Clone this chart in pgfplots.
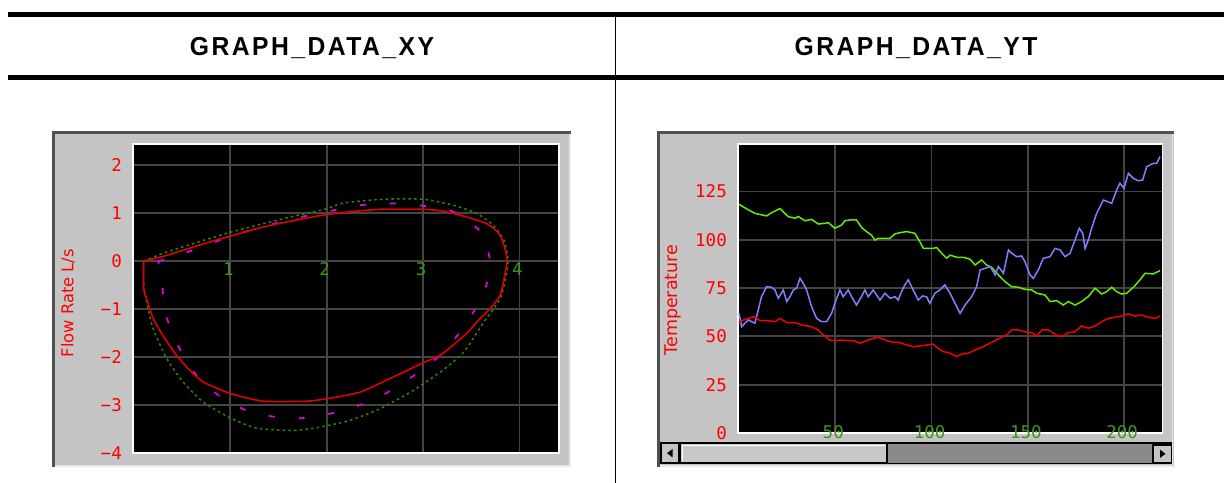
\documentclass[border=0pt]{standalone}
\usepackage{pgfplots}
\pgfplotsset{compat=1.18}
\usepackage{fontspec}
\newfontfamily\hdrfont[LetterSpace=9.5,FakeStretch=0.95]{Liberation Sans}
\newfontfamily\monofont{DejaVu Sans Mono}
\newfontfamily\labfont{DejaVu Sans}

\definecolor{framegray}{RGB}{196,196,196}
\definecolor{frdark}{RGB}{80,80,80}
\definecolor{frlight}{RGB}{232,232,232}
\definecolor{griddk}{RGB}{68,68,68}
\definecolor{xyred}{RGB}{224,0,0}
\definecolor{xymag}{RGB}{230,0,230}
\definecolor{xygreen}{RGB}{40,140,0}
\definecolor{ticklabgreen}{RGB}{60,150,30}
\definecolor{ytgreen}{RGB}{100,235,0}
\definecolor{ytblue}{RGB}{128,128,255}
\definecolor{ytred}{RGB}{240,0,0}
\definecolor{trackgray}{RGB}{138,138,138}
\definecolor{thumbgray}{RGB}{200,200,200}

\pgfplotsset{
  widget/.style={
    scale only axis,
    axis background/.style={fill=black},
    axis line style={white, line width=1.5bp},
    grid=major,
    grid style={griddk, line width=1.7bp},
    major tick length=0pt,
    tick style={draw=none},
    yticklabel style={font=\monofont\fontsize{17.5bp}{17.5bp}\selectfont, text=red, anchor=east, inner sep=0pt, xshift=-11bp},
    xticklabel style={font=\monofont\fontsize{17.5bp}{17.5bp}\selectfont, text=ticklabgreen, anchor=center, inner sep=0pt},
    ylabel style={text=red, anchor=center},
  }
}

\begin{document}
\begin{tikzpicture}
\path[use as bounding box, fill=white] (0,0) rectangle (1224bp,-483bp);

% header
\fill[black] (8bp,-11.5bp) rectangle (1224bp,-16.5bp);
\fill[black] (8bp,-74.5bp) rectangle (1224bp,-80bp);
\draw[black, line width=1bp] (615bp,-16.5bp) -- (615bp,-483bp);
\node[anchor=base, inner sep=0pt, font=\hdrfont\bfseries\fontsize{26bp}{26bp}\selectfont] at (312bp,-55.5bp) {GRAPH\_DATA\_XY};
\node[anchor=base, inner sep=0pt, font=\hdrfont\bfseries\fontsize{26bp}{26bp}\selectfont] at (916bp,-55.5bp) {GRAPH\_DATA\_YT};

% left widget frame
\fill[framegray] (52.5bp,-131.5bp) rectangle (571bp,-467bp);
\draw[frlight, line width=1.5bp] (53bp,-466.2bp) -- (570.2bp,-466.2bp) -- (570.2bp,-132bp);
\draw[frdark, line width=2.5bp] (53.7bp,-466.5bp) -- (53.7bp,-132.7bp) -- (571bp,-132.7bp);

% right widget frame
\fill[framegray] (657.5bp,-131.5bp) rectangle (1173.5bp,-467bp);
\draw[frlight, line width=1.5bp] (658bp,-466.2bp) -- (1172.7bp,-466.2bp) -- (1172.7bp,-132bp);
\draw[frdark, line width=2.5bp] (658.7bp,-466.5bp) -- (658.7bp,-132.7bp) -- (1173.5bp,-132.7bp);

% scrollbar
\fill[trackgray] (660bp,-443bp) rectangle (1172bp,-463.5bp);
\draw[black, line width=1.2bp] (660bp,-443bp) -- (1172bp,-443bp);
\draw[black, line width=1.2bp] (660bp,-463.5bp) -- (1172bp,-463.5bp);
\filldraw[fill=framegray, draw=black, line width=1.5bp] (661bp,-443.5bp) rectangle (679bp,-463bp);
\fill[black] (667bp,-453.2bp) -- (672.5bp,-449bp) -- (672.5bp,-457.4bp) -- cycle;
\filldraw[fill=thumbgray, draw=black, line width=1.8bp] (680.5bp,-443.5bp) rectangle (887bp,-463bp);
\draw[white, line width=1bp] (682.5bp,-461bp) -- (682.5bp,-445.5bp) -- (885bp,-445.5bp);
\filldraw[fill=framegray, draw=black, line width=1.5bp] (1153bp,-445bp) rectangle (1171.5bp,-462.7bp);
\fill[black] (1165.5bp,-453.8bp) -- (1160bp,-449.6bp) -- (1160bp,-458bp) -- cycle;

% ---------------- GRAPH_DATA_XY ----------------
\begin{axis}[widget,
  at={(133bp,-453bp)}, anchor=south west,
  width=426bp, height=309bp,
  xmin=-0.01, xmax=4.41, ymin=-4, ymax=2.44,
  xtick={1,2,3,4}, xticklabels={1,2,3,4},
  ytick={-4,-3,-2,-1,0,1,2},
  yticklabels={−4,−3,−2,−1,0,1,2},
  xticklabel style={yshift=184bp, xshift=-2bp},
  ylabel={Flow Rate L/s},
  ylabel style={font=\labfont\fontsize{16.3bp}{16.3bp}\selectfont, at={(axis description cs:-0.1526,0.485)}},
]
\addplot[xygreen, line width=1.5bp, dash pattern=on 2.5bp off 3.2bp, smooth, tension=0.4] coordinates {
(0.10,0) (0.34,0.19) (0.72,0.43) (1.0,0.6) (1.34,0.78) (1.69,0.95) (2.0,1.09) (2.17,1.21) (2.59,1.29) (3.0,1.29) (3.32,1.16) (3.56,0.99) (3.73,0.74) (3.84,0.43) (3.88,0.05) (3.87,-0.23) (3.80,-0.78) (3.63,-1.27) (3.42,-1.9) (3.18,-2.31) (2.87,-2.73) (2.55,-3.08) (2.24,-3.32) (1.93,-3.46) (1.65,-3.53) (1.27,-3.48) (1.0,-3.27) (0.72,-2.94) (0.51,-2.52) (0.34,-2.03) (0.20,-1.41) (0.13,-0.85) (0.10,-0.44) (0.10,0)
};
\addplot[xymag, line width=1.7bp, dash pattern=on 6bp off 24bp, smooth, tension=0.4] coordinates {
(0.25,0) (0.41,0.08) (0.72,0.31) (1.05,0.55) (1.38,0.74) (1.69,0.9) (2.0,1.03) (2.33,1.16) (2.66,1.2) (2.97,1.16) (3.3,1.04) (3.59,0.62) (3.70,-0.05) (3.63,-0.65) (3.45,-1.3) (3.18,-1.96) (2.83,-2.49) (2.51,-2.87) (2.18,-3.11) (1.86,-3.25) (1.59,-3.28) (1.22,-3.15) (0.91,-2.85) (0.62,-2.31) (0.43,-1.65) (0.32,-1.03) (0.29,-0.38) (0.25,0)
};
\addplot[xyred, line width=1.6bp, smooth, tension=0.35] coordinates {
(0.10,0) (0.34,0.12) (0.72,0.36) (1.0,0.52) (1.34,0.71) (1.72,0.87) (2.0,0.97) (2.31,1.04) (2.57,1.08) (3.0,1.08) (3.21,1.04) (3.45,0.92) (3.66,0.78) (3.79,0.57) (3.85,0.26) (3.87,0) (3.84,-0.37) (3.80,-0.71) (3.71,-0.96) (3.59,-1.2) (3.45,-1.51) (3.33,-1.72) (3.18,-1.96) (3.0,-2.12) (2.76,-2.35) (2.55,-2.55) (2.35,-2.73) (2.14,-2.82) (2.0,-2.87) (1.79,-2.92) (1.34,-2.92) (1.0,-2.76) (0.72,-2.52) (0.58,-2.28) (0.44,-1.96) (0.30,-1.55) (0.20,-1.2) (0.13,-0.78) (0.10,-0.57) (0.10,0)
};
\end{axis}

% ---------------- GRAPH_DATA_YT ----------------
\begin{axis}[widget,
  at={(738bp,-433bp)}, anchor=south west,
  width=424.5bp, height=289bp,
  xmin=-0.5, xmax=219.9, ymin=0, ymax=149.5,
  xtick={50,100,150,200}, xticklabels={50,100,150,200},
  ytick={0,25,50,75,100,125},
  yticklabels={0,25,50,75,100,125},
  xticklabel style={yshift=1bp, xshift=-2bp},
  ylabel={Temperature},
  ylabel style={font=\labfont\fontsize{17.5bp}{17.5bp}\selectfont, at={(axis description cs:-0.153,0.46)}},
]
\addplot[ytgreen, line width=1.5bp] coordinates {
(0,118.3)(5,115.4)(8.3,113.6)(14.4,112.3)(17,114)(21.3,116.1)(25.6,111.9)(29.1,111.1)(30.8,112)(34.3,109.8)(37.7,110.5)(41.2,108.1)(44.7,108.5)(46.4,108.8)(49.8,105.9)(53.3,107.6)(55,109.8)(57.6,110.2)(61,110.2)(63.6,106.4)(66.2,104.2)(68.8,102.4)(70.6,99.8)(72.3,100.7)(78.4,100.7)(81,103)(83.5,103.6)(87,104.2)(91.3,103.3)(93.9,99)(95.7,95.5)(100.8,95.5)(102.6,96)(105.2,93)(107.8,90.4)(109.6,92)(113.1,90.9)(116.5,90.9)(120,89.9)(122.6,86.9)(126,89.5)(128.6,86.9)(131.2,85.7)(134.7,81.8)(138.1,78.3)(141.6,75.7)(145.1,75.4)(148.5,74.3)(152,74)(154.6,72.3)(158.9,71.4)(161.5,68)(165,68.5)(168.4,66.2)(171,68)(174.5,66.2)(177.9,68)(181.4,70.6)(184.9,74.9)(188.3,71.9)(190.9,73.1)(193.5,75.4)(196.1,73.1)(198.7,71.9)(201.3,72.3)(204.8,75.4)(208.2,79.2)(210.8,82.6)(215.1,82.3)(218.6,84)
};
\addplot[ytblue, line width=1.5bp] coordinates {
(0,61.9)(1.4,55)(3.1,56.8)(4.8,58.5)(6.6,57.6)(8.3,56.8)(10,63.6)(11.7,70.5)(14.3,75.7)(16.9,75.4)(18.7,74)(20.4,69.7)(23,74)(24.8,68)(26.5,70.5)(28.2,74)(29.9,74.9)(31.7,80)(33.4,77.4)(35.1,74)(37.7,65.4)(40.3,59.3)(42.9,57.6)(45.5,57.6)(48.1,61.9)(49.8,67.1)(52.4,74)(54.1,70.5)(56.7,74)(58.5,70.5)(61,66.2)(63.6,70.5)(65.4,74)(67.1,70.5)(69.7,74)(71.4,71.4)(73.2,68.8)(75.8,72.3)(78.4,69.7)(81,70.5)(82.7,68.8)(84.4,73.1)(86.1,76.6)(87.9,79.2)(89.6,75.7)(91.3,72.3)(93.1,68.8)(95.3,70.9)(97.4,70.5)(99.1,67.1)(101.7,72.3)(104.3,74)(106.9,76.6)(109.6,72.3)(112.2,67.1)(114.8,61.9)(117.4,66.2)(120.8,70.5)(123.4,75.7)(125.2,84.3)(127.8,85.2)(130.4,86.1)(133,81.8)(134.7,86.1)(137.3,82.6)(139.9,94.7)(141.6,93)(144.2,91.2)(146.8,91.6)(148.5,88.6)(151.1,81.8)(152.8,80)(155.4,84.3)(158,90.4)(161.5,91.2)(164.1,95.5)(166.7,94.7)(169.3,91.2)(171.9,93)(174.5,99.9)(176.7,105.9)(178.5,103.3)(179.7,95.5)(181.4,99.9)(183.1,105.9)(185.7,113.6)(189.2,120.5)(191.3,119.7)(193.5,118.8)(196.1,125.7)(197.8,129.2)(199.9,126.6)(202.2,134.3)(204.8,131.7)(207.3,130.5)(209.6,130.9)(211.7,137.8)(215.1,139.5)(216.9,139.5)(218.6,143)
};
\addplot[ytred, line width=1.5bp] coordinates {
(0,56.8)(2.2,58.5)(4.8,59.3)(8.3,60.2)(10.9,58.1)(15.2,58.1)(18.7,57.6)(21.3,59.3)(24.8,57.1)(29.1,57.1)(32.5,55.9)(37.7,55)(41.2,53.3)(44.7,49.9)(47.2,48.1)(49.8,47.8)(53.3,48.1)(55.9,47.8)(59.3,47.8)(62.8,46.4)(66.2,47.8)(69.7,49)(72.3,49.5)(75.8,48.1)(80.1,46.9)(83.5,46.8)(87,45.5)(90.5,44.7)(93.9,45)(97.4,45.5)(100.8,46)(103.4,43.8)(106,42.1)(108.6,41.6)(110.5,40.9)(113.1,39.5)(115.7,40.9)(119.1,41.2)(122.6,43)(126,44.3)(129.5,46.1)(133,47.8)(136.4,49.5)(139,50.7)(141.6,53.3)(145.1,53.3)(148.5,52.4)(152,51.9)(154.6,50.2)(157.2,53.3)(160.6,53.3)(163.2,51.6)(165,50.7)(167.6,49.9)(171,51.9)(174.5,52.4)(177.9,55.4)(181.4,54.2)(184.9,55.4)(188.3,57.6)(191.8,59.3)(195.2,59.9)(198.7,60.5)(202.2,61.6)(205.6,60.5)(209.1,61)(212.5,59.9)(216,59.3)(218.6,60.5)
};
\end{axis}
\end{tikzpicture}
\end{document}
